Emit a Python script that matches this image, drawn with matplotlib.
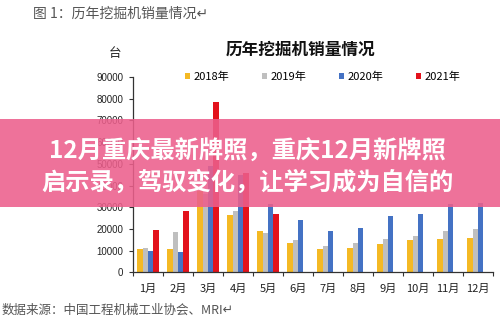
import matplotlib
matplotlib.use("Agg")
import matplotlib.pyplot as plt
from matplotlib.patches import Rectangle
import numpy as np

plt.rcParams['font.family'] = ['Noto Sans CJK SC', 'DejaVu Sans']

# monthly excavator sales (units)
months = ['1月', '2月', '3月', '4月', '5月', '6月',
          '7月', '8月', '9月', '10月', '11月', '12月']
sales_2018 = [10600, 11000, 37500, 26300, 19100, 13800, 11000, 11300, 13300, 14800, 15600, 15900]
sales_2019 = [11500, 18600, 36000, 28100, 18400, 14800, 12100, 13600, 15400, 17000, 19100, 20000]
sales_2020 = [9800, 9200, 49000, 45000, 31700, 24300, 18900, 20500, 25800, 27000, 31600, 31800]
sales_2021 = [19700, 28200, 78400, 45900, 27000]

series = [
    ('2018年', sales_2018, '#F4B924'),
    ('2019年', sales_2019, '#BFBFBF'),
    ('2020年', sales_2020, '#4472C4'),
    ('2021年', sales_2021, '#E3121C'),
]

fig = plt.figure(figsize=(5, 3.27), dpi=100)
ax = fig.add_axes([0.266, 0.1667, 0.72, 0.598])

w = 0.183
offsets = [-1.5 * w, -0.5 * w, 0.5 * w, 1.5 * w]
for (name, vals, color), off in zip(series, offsets):
    x = np.arange(len(vals))
    ax.bar(x + off, vals, width=w, color=color, label=name, linewidth=0)

ax.set_xlim(-0.5, 11.5)
ax.set_ylim(0, 90000)
ax.set_yticks(range(0, 90001, 10000))
ax.set_yticklabels([str(v) for v in range(0, 90001, 10000)],
                   family='Liberation Sans', fontsize=7, color='#222222')
ax.set_xticks(range(12))
ax.set_xticklabels(months, fontsize=8, color='#222222')
ax.set_xticks(np.arange(-0.5, 12, 1), minor=True)
ax.tick_params(axis='x', which='major', length=0, pad=8)
ax.tick_params(axis='x', which='minor', length=3, width=0.8, color='#333333')
ax.tick_params(axis='y', length=3, width=0.8, color='#333333', pad=4)
for side in ['top', 'right']:
    ax.spines[side].set_visible(False)
for side in ['left', 'bottom']:
    ax.spines[side].set_color('#333333')
    ax.spines[side].set_linewidth(0.9)

fig.legend(loc='center', bbox_to_anchor=(0.645, 0.765), ncol=4, frameon=False,
           fontsize=8, handlelength=0.5, handleheight=0.5, handletextpad=0.3,
           columnspacing=2.9)

fig.text(0.602, 0.847, '历年挖掘机销量情况', ha='center', va='center',
         fontsize=12, fontweight='bold', color='#111111')
fig.text(0.23, 0.835, '台', ha='center', va='center', fontsize=9, color='#222222')
fig.text(0.066, 0.957, '图 1：历年挖掘机销量情况↵', ha='left', va='center',
         fontsize=10, color='#555555')
fig.text(0.004, 0.052, '数据来源：中国工程机械工业协会、MRI↵', ha='left', va='center',
         fontsize=9, color='#555555')

# pink headline banner across the figure
fig.patches.append(Rectangle((0, 1 - 207 / 327), 1, 88 / 327, transform=fig.transFigure,
                             facecolor='#EC5F8C', alpha=0.88, edgecolor='none', zorder=5))
fig.text(0.494, 1 - 152 / 327, '12月重庆最新牌照，重庆12月新牌照', ha='center', va='center',
         fontsize=17.5, fontweight='bold', color='white', zorder=6)
fig.text(0.494, 1 - 183 / 327, '启示录，驾驭变化，让学习成为自信的', ha='center', va='center',
         fontsize=17.5, fontweight='bold', color='white', zorder=6)

fig.savefig('out.png', dpi=100)
